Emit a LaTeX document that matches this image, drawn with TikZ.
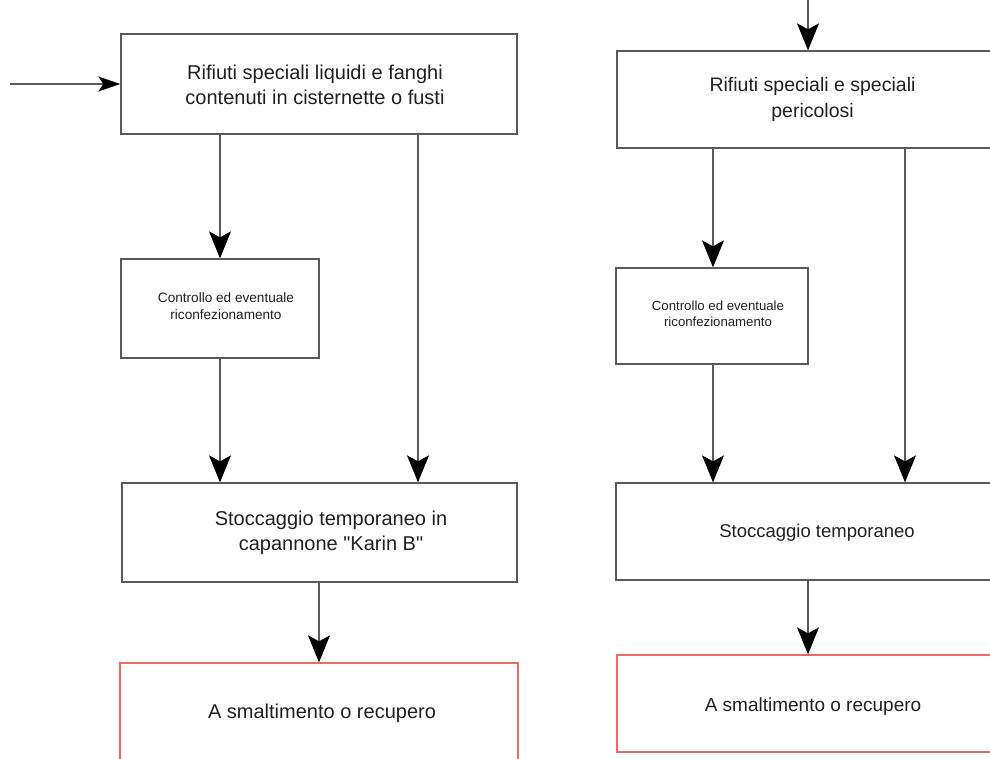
\documentclass[tikz,border=0pt]{standalone}
\usepackage{fontspec}
\setmainfont{Liberation Sans}
\usetikzlibrary{arrows.meta}
\definecolor{edge}{HTML}{5A5A5A}
\definecolor{ink}{HTML}{202020}
\definecolor{alert}{HTML}{EE6A6A}
\begin{document}
\begin{tikzpicture}[x=1pt,y=-1pt,
  box/.style={draw=edge,line width=1.3pt,rectangle,inner sep=0pt},
  endbox/.style={draw=alert,line width=1.3pt,rectangle,inner sep=0pt},
  bigtext/.style={text=ink,align=center,inner sep=0pt,font=\fontsize{20}{25}\selectfont},
  midtext/.style={text=ink,align=center,inner sep=0pt,font=\fontsize{19.5}{26}\selectfont},
  smalltext/.style={text=ink,align=center,inner sep=0pt,font=\fontsize{13.6}{16.5}\selectfont},
  flow/.style={draw=edge,line width=1.3pt,-{Stealth[length=27pt,width=22pt,inset=6pt,color=black]}},
  feed/.style={draw=edge,line width=1.3pt,-{Stealth[length=22pt,width=15pt,inset=5pt,color=black]}}]
\useasboundingbox (0,0) rectangle (990,758);
\clip (0,0) rectangle (990,758);

% ---- left column ----
\node[box,minimum width=396pt,minimum height=100pt] (A1) at (319,84) {};
\node[bigtext] (tA1) at (315,85) {Rifiuti speciali liquidi e fanghi\\contenuti in cisternette o fusti};
\node[box,minimum width=198pt,minimum height=99pt] (C1) at (220,308.5) {};
\node[smalltext] (tC1) at (226,306) {Controllo ed eventuale\\riconfezionamento};
\node[box,minimum width=395pt,minimum height=99pt] (S1) at (319.5,532.5) {};
\node[bigtext] (tS1) at (331,533) {Stoccaggio temporaneo in\\capannone \textquotedbl Karin B\textquotedbl};
\node[endbox,minimum width=398pt,minimum height=127pt] (R1) at (319,726.5) {};
\node[bigtext] (tR1) at (322,713) {A smaltimento o recupero};

\coordinate (in1) at (10,84);
\coordinate (x1) at (418,0);
\draw[feed] (in1) -- (A1.west);
\draw[flow] (A1.south -| C1.north) -- (C1.north);
\draw[flow] (C1.south) -- (S1.north -| C1.south);
\draw[flow] (A1.south -| x1) -- (S1.north -| x1);
\draw[flow] (S1.south -| R1.north) -- (R1.north);

% ---- right column ----
\node[box,minimum width=388pt,minimum height=97pt] (A2) at (811,99.5) {};
\node[midtext] (tA2) at (812.5,99) {Rifiuti speciali e speciali\\pericolosi};
\node[box,minimum width=192pt,minimum height=96pt] (C2) at (712,316) {};
\node[smalltext,font=\fontsize{13.2}{16}\selectfont] (tC2) at (718,313.5) {Controllo ed eventuale\\riconfezionamento};
\node[box,minimum width=389pt,minimum height=97pt] (S2) at (810.5,531.5) {};
\node[midtext,font=\fontsize{18.5}{24}\selectfont] (tS2) at (817,533) {Stoccaggio temporaneo};
\node[endbox,minimum width=388pt,minimum height=97pt] (R2) at (811,703.5) {};
\node[midtext,font=\fontsize{19}{24}\selectfont] (tR2) at (813,707) {A smaltimento o recupero};

\coordinate (in2) at (808,0);
\coordinate (x2) at (905,0);
\coordinate (x3) at (713,0);
\coordinate (x4) at (808,0);
\draw[flow] (in2) -- (A2.north -| in2);
\draw[flow] (A2.south -| x3) -- (C2.north -| x3);
\draw[flow] (C2.south -| x3) -- (S2.north -| x3);
\draw[flow] (A2.south -| x2) -- (S2.north -| x2);
\draw[flow] (S2.south -| x4) -- (R2.north -| x4);
\end{tikzpicture}
\end{document}
